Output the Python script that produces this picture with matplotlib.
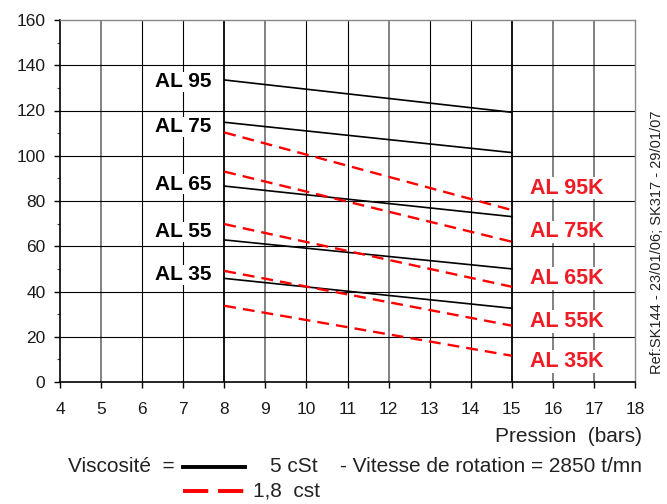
import matplotlib
matplotlib.use("Agg")
import matplotlib.pyplot as plt
from matplotlib.lines import Line2D

plt.rcParams['font.family'] = ['Liberation Sans', 'DejaVu Sans']

# ---- data ----
pressure = [8, 15]
black_names = ["AL 95", "AL 75", "AL 65", "AL 55", "AL 35"]
black_vals = [[133.5, 119.2], [114.8, 101.4], [86.6, 73.1], [62.8, 50.0], [45.8, 32.6]]
black_label_y = [132.7, 112.8, 87.4, 66.4, 47.3]
red_names = ["AL 95K", "AL 75K", "AL 65K", "AL 55K", "AL 35K"]
red_vals = [[110.3, 76.0], [93.0, 62.0], [69.8, 42.1], [49.1, 24.9], [33.7, 11.6]]
red_label_y = [85.7, 66.4, 45.8, 26.7, 9.0]
x_ticks = list(range(4, 19))
y_ticks = list(range(0, 161, 20))

fig = plt.figure(figsize=(6.67, 5.04), dpi=100)
ax = fig.add_axes([60/667, 1-382/504, 575/667, 362/504])
ax.set_xlim(4, 18)
ax.set_ylim(0, 160)

# grid
gray_x = {5, 9, 12, 16, 17}
thick_x = {8, 12, 15}
for xv in x_ticks[1:-1]:
    c = '#777777' if xv in gray_x else 'black'
    lw = 1.3 if (xv in thick_x or xv in gray_x) else 0.8
    ax.axvline(xv, color=c, lw=lw, zorder=1)
for yv in y_ticks[1:-1]:
    ax.axhline(yv, color='black', lw=0.8, zorder=1)

for vals in black_vals:
    ax.plot(pressure, vals, color='black', lw=1.2, zorder=3)
for vals in red_vals:
    ax.plot(pressure, vals, color='#ff0000', lw=1.7, ls=(0, (5, 3)), zorder=3)

for name, yv in zip(black_names, black_label_y):
    ax.text(7.0, yv, name, ha='center', va='center', fontsize=15, fontweight='bold',
            color='black', bbox=dict(facecolor='white', edgecolor='none', pad=0.5), zorder=4)
for name, yv in zip(red_names, red_label_y):
    ax.text(16.33, yv, name, ha='center', va='center', fontsize=15.5, fontweight='bold',
            color='#ee1c25', bbox=dict(facecolor='white', edgecolor='none', pad=0.5), zorder=4)

ax.set_xticks(x_ticks)
ax.set_yticks(y_ticks)
ax.set_yticks(range(0, 161, 10), minor=True)
ax.tick_params(axis='both', which='major', labelsize=12.5, length=4.5, width=1, color='black',
               labelcolor='#1a1a1a')
ax.tick_params(axis='x', which='major', pad=10)
ax.tick_params(axis='y', which='major', pad=6)
ax.tick_params(axis='y', which='minor', length=2.5, width=0.8, color='#444444')
for s in ['top', 'right']:
    ax.spines[s].set_color('#888888')
    ax.spines[s].set_linewidth(1.0)
for s in ['left', 'bottom']:
    ax.spines[s].set_color('black')
    ax.spines[s].set_linewidth(1.2)

fig.text(642/667, 1-437/504, "Pression  (bars)", ha='right', va='center', fontsize=15, color='#222222')
fig.text(657/667, 1-(112+373)/2/504, "Ref:SK144 - 23/01/06; SK317 - 29/01/07", rotation=90,
         ha='center', va='center', fontsize=10.5, color='#222222')

# legend-like footer
fig.text(68/667, 1-467/504, "Viscosité  =", ha='left', va='center', fontsize=15, color='#222222')
fig.add_artist(Line2D([183/667, 245/667], [1-466.5/504, 1-466.5/504], color='black', lw=2.8,
                      transform=fig.transFigure))
fig.add_artist(Line2D([183/667, 245/667], [1-491/504, 1-491/504], color='#ff0000', lw=2.8,
                      ls=(0, (6.5, 2.5)), transform=fig.transFigure))
fig.text(318/667, 1-467/504, "5 cSt", ha='right', va='center', fontsize=15, color='#222222')
fig.text(340/667, 1-467/504, "- Vitesse de rotation = 2850 t/mn", ha='left', va='center',
         fontsize=15, color='#222222')
fig.text(253/667, 1-491/504, "1,8  cst", ha='left', va='center', fontsize=15, color='#222222')

fig.savefig("out.png", dpi=100)
